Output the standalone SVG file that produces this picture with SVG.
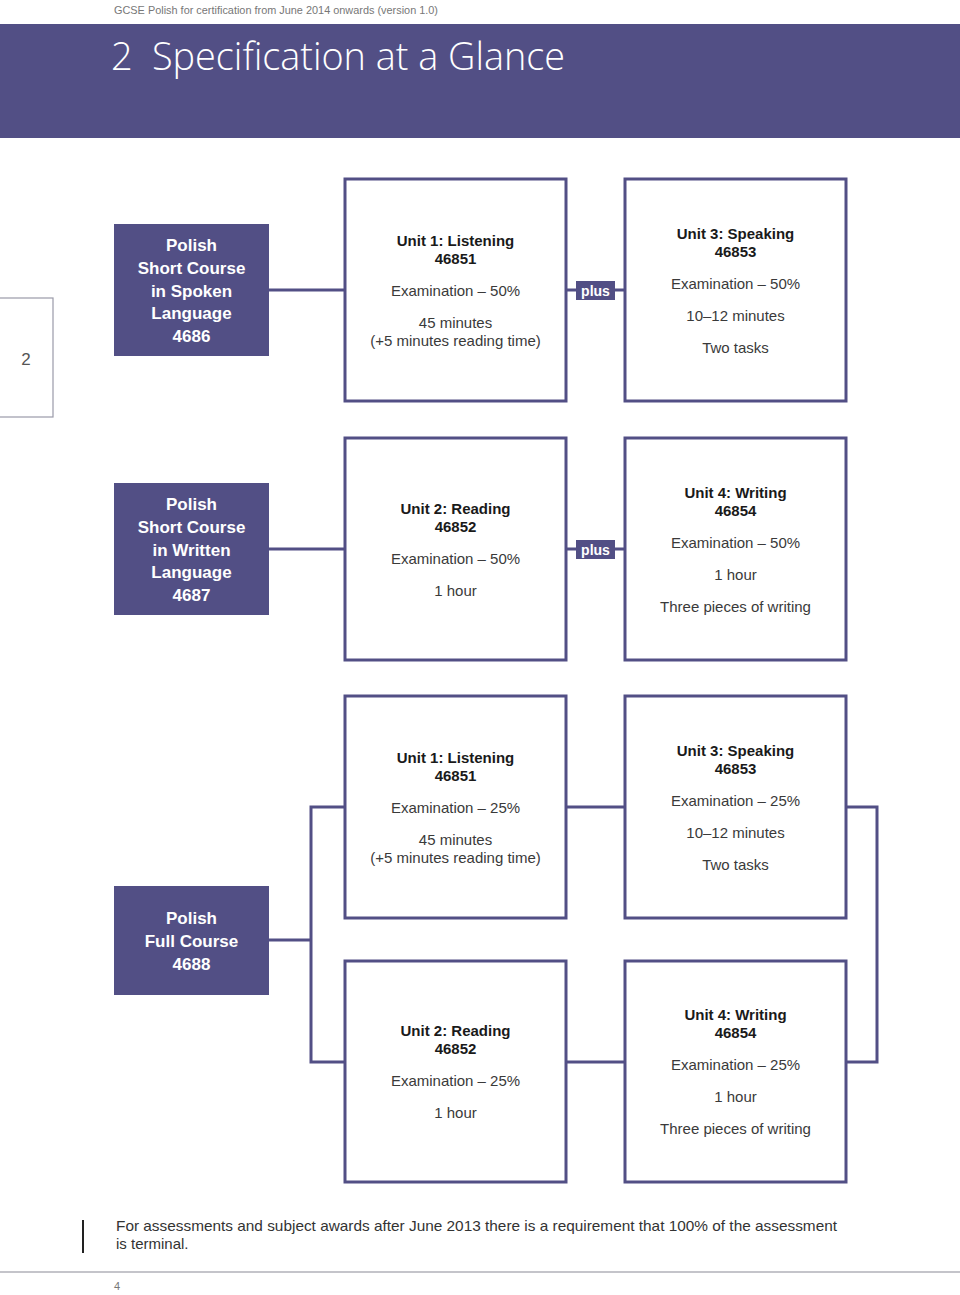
<svg xmlns="http://www.w3.org/2000/svg" width="960" height="1295" viewBox="0 0 960 1295">
<style>
.bg{fill:#ffffff}
.band{fill:#524f85}
.course{fill:#524f85}
.unit{fill:#ffffff;stroke:#524f85;stroke-width:3}
.conn{fill:none;stroke:#524f85;stroke-width:3}
.ct{font-family:"Liberation Sans",Arial,sans-serif;font-size:17px;font-weight:bold;fill:#ffffff;text-anchor:middle}
.ub{font-family:"Liberation Sans",Arial,sans-serif;font-size:15px;font-weight:bold;fill:#1a1a1a;text-anchor:middle}
.ur{font-family:"Liberation Sans",Arial,sans-serif;font-size:15px;fill:#3a3a3a;text-anchor:middle}
.plus{font-family:"Liberation Sans",Arial,sans-serif;font-size:14px;font-weight:bold;fill:#ffffff;text-anchor:middle}
.small{font-family:"Liberation Sans",Arial,sans-serif;font-size:11px;fill:#777777}
.foot{font-family:"Liberation Sans",Arial,sans-serif;font-size:15px;fill:#333333}
.title{font-family:"Open Sans","Liberation Sans",sans-serif;font-weight:300;font-size:38px;fill:#ffffff}
</style>
<rect class="bg" x="0" y="0" width="960" height="1295"/>
<text class="small" x="114" y="14" textLength="324" lengthAdjust="spacingAndGlyphs">GCSE Polish for certification from June 2014 onwards (version 1.0)</text>
<rect class="band" x="0" y="24" width="960" height="114"/>
<text class="title" x="111" y="70">2</text>
<text class="title" x="152" y="70" textLength="413" lengthAdjust="spacingAndGlyphs">Specification at a Glance</text>

<g id="side-tab">
<rect x="-2" y="298" width="55" height="119" fill="#ffffff" stroke="#9a9aa8" stroke-width="1.2"/>
<text x="26" y="365" font-family="'Liberation Sans',Arial,sans-serif" font-size="17" fill="#555555" text-anchor="middle">2</text>
</g>

<g id="connectors">
<line class="conn" x1="269" y1="290" x2="345" y2="290"/>
<line class="conn" x1="566" y1="290" x2="625" y2="290"/>
<line class="conn" x1="269" y1="549" x2="345" y2="549"/>
<line class="conn" x1="566" y1="549" x2="625" y2="549"/>
<line class="conn" x1="269" y1="940" x2="311" y2="940"/>
<polyline class="conn" points="345,807 311,807 311,1062 345,1062"/>
<line class="conn" x1="566" y1="807" x2="625" y2="807"/>
<line class="conn" x1="566" y1="1062" x2="625" y2="1062"/>
<polyline class="conn" points="846,807 877,807 877,1062 846,1062"/>
</g>

<g id="plus1">
<rect class="course" x="576" y="281" width="39" height="19"/>
<text class="plus" x="595.5" y="296">plus</text>
</g>
<g id="plus2">
<rect class="course" x="576" y="540" width="39" height="19"/>
<text class="plus" x="595.5" y="555">plus</text>
</g>

<g id="course-4686">
<rect class="course" x="114" y="224" width="155" height="132"/>
<text class="ct" x="191.5" y="251">Polish</text>
<text class="ct" x="191.5" y="274">Short Course</text>
<text class="ct" x="191.5" y="297">in Spoken</text>
<text class="ct" x="191.5" y="319">Language</text>
<text class="ct" x="191.5" y="342">4686</text>
</g>

<g id="row1-unit1">
<rect class="unit" x="345" y="179" width="221" height="222"/>
<text class="ub" x="455.5" y="246">Unit 1: Listening</text>
<text class="ub" x="455.5" y="264">46851</text>
<text class="ur" x="455.5" y="296">Examination – 50%</text>
<text class="ur" x="455.5" y="328">45 minutes</text>
<text class="ur" x="455.5" y="346">(+5 minutes reading time)</text>
</g>

<g id="row1-unit3">
<rect class="unit" x="625" y="179" width="221" height="222"/>
<text class="ub" x="735.5" y="239">Unit 3: Speaking</text>
<text class="ub" x="735.5" y="257">46853</text>
<text class="ur" x="735.5" y="289">Examination – 50%</text>
<text class="ur" x="735.5" y="321">10–12 minutes</text>
<text class="ur" x="735.5" y="353">Two tasks</text>
</g>

<g id="course-4687">
<rect class="course" x="114" y="483" width="155" height="132"/>
<text class="ct" x="191.5" y="510">Polish</text>
<text class="ct" x="191.5" y="533">Short Course</text>
<text class="ct" x="191.5" y="556">in Written</text>
<text class="ct" x="191.5" y="578">Language</text>
<text class="ct" x="191.5" y="601">4687</text>
</g>

<g id="row2-unit2">
<rect class="unit" x="345" y="438" width="221" height="222"/>
<text class="ub" x="455.5" y="514">Unit 2: Reading</text>
<text class="ub" x="455.5" y="532">46852</text>
<text class="ur" x="455.5" y="564">Examination – 50%</text>
<text class="ur" x="455.5" y="596">1 hour</text>
</g>

<g id="row2-unit4">
<rect class="unit" x="625" y="438" width="221" height="222"/>
<text class="ub" x="735.5" y="498">Unit 4: Writing</text>
<text class="ub" x="735.5" y="516">46854</text>
<text class="ur" x="735.5" y="548">Examination – 50%</text>
<text class="ur" x="735.5" y="580">1 hour</text>
<text class="ur" x="735.5" y="612">Three pieces of writing</text>
</g>

<g id="course-4688">
<rect class="course" x="114" y="886" width="155" height="109"/>
<text class="ct" x="191.5" y="924">Polish</text>
<text class="ct" x="191.5" y="947">Full Course</text>
<text class="ct" x="191.5" y="970">4688</text>
</g>

<g id="row3-unit1">
<rect class="unit" x="345" y="696" width="221" height="222"/>
<text class="ub" x="455.5" y="763">Unit 1: Listening</text>
<text class="ub" x="455.5" y="781">46851</text>
<text class="ur" x="455.5" y="813">Examination – 25%</text>
<text class="ur" x="455.5" y="845">45 minutes</text>
<text class="ur" x="455.5" y="863">(+5 minutes reading time)</text>
</g>

<g id="row3-unit3">
<rect class="unit" x="625" y="696" width="221" height="222"/>
<text class="ub" x="735.5" y="756">Unit 3: Speaking</text>
<text class="ub" x="735.5" y="774">46853</text>
<text class="ur" x="735.5" y="806">Examination – 25%</text>
<text class="ur" x="735.5" y="838">10–12 minutes</text>
<text class="ur" x="735.5" y="870">Two tasks</text>
</g>

<g id="row4-unit2">
<rect class="unit" x="345" y="961" width="221" height="221"/>
<text class="ub" x="455.5" y="1036">Unit 2: Reading</text>
<text class="ub" x="455.5" y="1054">46852</text>
<text class="ur" x="455.5" y="1086">Examination – 25%</text>
<text class="ur" x="455.5" y="1118">1 hour</text>
</g>

<g id="row4-unit4">
<rect class="unit" x="625" y="961" width="221" height="221"/>
<text class="ub" x="735.5" y="1020">Unit 4: Writing</text>
<text class="ub" x="735.5" y="1038">46854</text>
<text class="ur" x="735.5" y="1070">Examination – 25%</text>
<text class="ur" x="735.5" y="1102">1 hour</text>
<text class="ur" x="735.5" y="1134">Three pieces of writing</text>
</g>

<g id="footnote">
<line x1="83" y1="1220" x2="83" y2="1253" stroke="#222222" stroke-width="2"/>
<text class="foot" x="116" y="1231" textLength="721" lengthAdjust="spacingAndGlyphs">For assessments and subject awards after June 2013 there is a requirement that 100% of the assessment</text>
<text class="foot" x="116" y="1249">is terminal.</text>
</g>
<line x1="0" y1="1272" x2="960" y2="1272" stroke="#8a8a96" stroke-width="1.2"/>
<text class="small" x="114" y="1290" font-size="10">4</text>
</svg>
